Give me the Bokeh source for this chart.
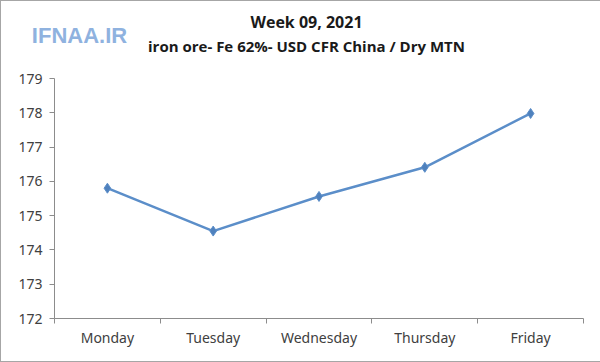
from bokeh.plotting import figure
from bokeh.layouts import column
from bokeh.models import (ColumnDataSource, Range1d, LinearAxis, FixedTicker)
from bokeh.core.properties import value
from bokeh.embed import file_html
from bokeh.resources import INLINE

days = ["Monday", "Tuesday", "Wednesday", "Thursday", "Friday"]
prices = [175.80, 174.55, 175.56, 176.41, 177.98]
y_ticks = [172, 173, 174, 175, 176, 177, 178, 179]
title1 = "Week 09, 2021"
title2 = "iron ore- Fe 62%- USD CFR China / Dry MTN"
logo = "IFNAA.IR"

W, HEAD_H, H = 600, 67, 360
FL, FW, FH = 53, 529, 240

# ---------- chart ----------
xs = [i + 0.5 for i in range(len(days))]
src = ColumnDataSource(dict(x=xs, y=prices, day=days))

p = figure(width=W, height=H - HEAD_H, output_backend="svg", toolbar_location=None,
           x_range=Range1d(0, len(days)), y_range=Range1d(172, 179),
           x_axis_type=None, y_axis_type=None,
           min_border_left=FL, min_border_right=W - FL - FW,
           min_border_top=77 - HEAD_H, min_border_bottom=H - 77 - FH)
p.outline_line_color = None

# ---------- header (titles + logo) ----------
aligned = "frame_align" not in p.properties()
hx0, hx1 = (FL, FL + FW) if aligned else (0, W)
head = figure(width=W, height=HEAD_H, output_backend="svg", toolbar_location=None,
              x_range=Range1d(hx0, hx1), y_range=Range1d(HEAD_H, 0),
              x_axis_type=None, y_axis_type=None,
              min_border_left=0, min_border_right=0, min_border_top=0, min_border_bottom=0)
if not aligned:
    head.frame_align = False
    p.frame_align = False
head.outline_line_color = None
head.grid.visible = False
head.text(x=[305], y=[20], text=[title1], text_font=value("Open Sans"),
          text_font_style="bold", text_font_size="16px", text_align="center",
          text_baseline="middle", text_color="#1a1a1a")
head.text(x=[305], y=[44], text=[title2], text_font=value("Open Sans"),
          text_font_style="bold", text_font_size="15px", text_align="center",
          text_baseline="middle", text_color="#1a1a1a")
head.text(x=[max(78, hx0 + 48)], y=[34], text=[logo], text_font=value("Liberation Sans"),
          text_font_style="bold", text_font_size="22px", text_align="center",
          text_baseline="middle", text_color="#8fb2df")

grid_color = "#8c8c8c"
text_color = "#404040"

yax = LinearAxis(ticker=FixedTicker(ticks=y_ticks))
yax.axis_line_color = grid_color
yax.major_tick_line_color = grid_color
yax.major_tick_out = 5
yax.major_tick_in = 0
yax.minor_tick_line_color = None
yax.major_label_standoff = 7
yax.major_label_text_font = "Noto Sans"
yax.major_label_text_font_size = "14px"
yax.major_label_text_color = text_color
p.add_layout(yax, "left")

xax = LinearAxis(ticker=FixedTicker(ticks=xs, minor_ticks=list(range(len(days) + 1))),
                 major_label_overrides={x: d for x, d in zip(xs, days)})
xax.axis_line_color = grid_color
xax.major_tick_line_color = None
xax.minor_tick_line_color = grid_color
xax.minor_tick_out = 5
xax.minor_tick_in = 0
xax.major_tick_out = 0
xax.major_tick_in = 0
xax.major_label_text_font = "Noto Sans"
xax.major_label_text_font_size = "14px"
xax.major_label_text_color = text_color
xax.major_label_standoff = 4
p.add_layout(xax, "below")

p.xgrid.visible = False
p.ygrid.ticker = FixedTicker(ticks=y_ticks)
p.ygrid.grid_line_color = grid_color
p.ygrid.grid_line_width = 1

p.line("x", "y", source=src, line_color="#5b8ec9", line_width=2.5)
p.scatter("x", "y", source=src, marker="diamond", size=10,
          fill_color="#4f81bd", line_color="#5b8ec9")

layout = column(head, p, spacing=0)
layout.styles = {"border": "1px solid #a6a6a6"}

open("out.html", "w").write(file_html(layout, INLINE))
